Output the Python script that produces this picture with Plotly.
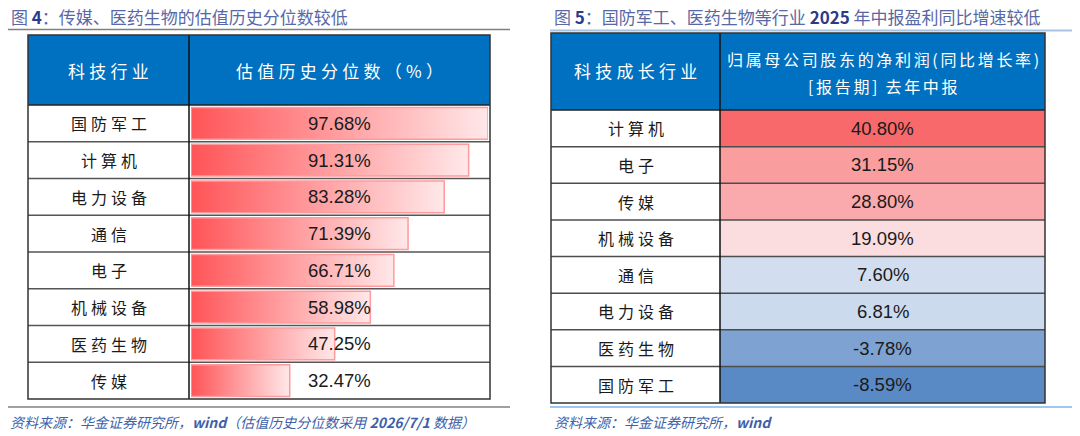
import plotly.graph_objects as go

# figure 4 data: valuation history percentile
left_cats = ["国防军工", "计算机", "电力设备", "通信", "电子", "机械设备", "医药生物", "传媒"]
left_vals = [97.68, 91.31, 83.28, 71.39, 66.71, 58.98, 47.25, 32.47]

# figure 5 data: net profit yoy growth, 2025 interim
right_cats = ["计算机", "电子", "传媒", "机械设备", "通信", "电力设备", "医药生物", "国防军工"]
right_vals = [40.80, 31.15, 28.80, 19.09, 7.60, 6.81, -3.78, -8.59]

W, H = 1080, 436
CJK = "Noto Sans CJK SC"
NUM = "Liberation Sans, Arial"


def px(x):
    return x / W


def py(y):
    return 1 - y / H


def spaced(s, sep="\u2005"):
    # Excel-style distributed characters
    return sep.join(s)


fig = go.Figure()

# left panel: gradient data bars
h = 0.435
for i, v in enumerate(left_vals):
    fig.add_trace(go.Scatter(
        x=[0, v, v, 0, 0],
        y=[i - h, i - h, i + h, i + h, i - h],
        mode="lines",
        fill="toself",
        fillgradient=dict(type="horizontal", colorscale=[[0, "#FF5457"], [1, "#FFE8E9"]]),
        line=dict(color="#FF9A9D", width=1.5),
        hoverinfo="skip",
        showlegend=False,
        xaxis="x", yaxis="y",
    ))

# right panel: 3-colour scale (min blue, median white, max red)
srt = sorted(right_vals)
median = (srt[3] + srt[4]) / 2
lo, hi = min(right_vals), max(right_vals)
mid = (median - lo) / (hi - lo)
fig.add_trace(go.Heatmap(
    z=[[v] for v in right_vals],
    x=[0],
    y=list(range(len(right_vals))),
    zmin=lo, zmax=hi,
    colorscale=[[0, "#5A8AC6"], [mid, "#FCFCFF"], [1, "#F8696B"]],
    showscale=False,
    hoverinfo="skip",
    xaxis="x2", yaxis="y2",
))

shapes = []
ann = []


def line(x0, x1, y0, y1, color, width, yref="paper"):
    ys = (y0, y1) if yref != "paper" else (py(y0), py(y1))
    return dict(type="line", xref="paper", yref=yref, x0=px(x0), x1=px(x1), y0=ys[0], y1=ys[1],
                line=dict(color=color, width=width))


def text(x, y, s, font, yref="paper", xanchor="center"):
    return dict(xref="paper", yref=yref, x=px(x), y=py(y) if yref == "paper" else y,
                xanchor=xanchor, yanchor="middle", showarrow=False, text=s, font=font)


# ---- left table frame ----
L0, L1, LD = 28, 490, 189
LT, LH, LB = 35, 105, 399
shapes.append(dict(type="rect", xref="paper", yref="paper", x0=px(L0), x1=px(L1), y0=py(LH), y1=py(LT),
                   fillcolor="#0070C0", line=dict(width=0), layer="below"))
for i in range(1, len(left_cats)):
    shapes.append(line(L0, L1, i - 0.5, i - 0.5, "#555555", 1.5, yref="y"))
shapes.append(line(L0, L1, LH, LH, "#222222", 1.5))
shapes.append(line(LD, LD, LB, LT, "#111111", 1.5))
shapes.append(dict(type="rect", xref="paper", yref="paper", x0=px(L0), x1=px(L1), y0=py(LB), y1=py(LT),
                   line=dict(color="#333333", width=1.5)))

# ---- right table frame ----
R0, R1, RD = 551, 1045, 720
RT, RH, RB = 33, 110, 403
shapes.append(dict(type="rect", xref="paper", yref="paper", x0=px(R0), x1=px(R1), y0=py(RH), y1=py(RT),
                   fillcolor="#0070C0", line=dict(width=0), layer="below"))
for i in range(1, len(right_cats)):
    shapes.append(line(R0, R1, i - 0.5, i - 0.5, "#4D4D4D", 1.5, yref="y2"))
shapes.append(line(R0, R1, RH, RH, "#222222", 1.5))
shapes.append(line(RD, RD, RB, RT, "#111111", 1.5))
shapes.append(dict(type="rect", xref="paper", yref="paper", x0=px(R0), x1=px(R1), y0=py(RB), y1=py(RT),
                   line=dict(color="#333333", width=1.5)))

# title / footer rules
shapes.append(line(8, 510, 29.5, 29.5, "#808080", 1.5))
shapes.append(line(8, 510, 407, 407, "#808080", 1.5))
shapes.append(line(550, 1072, 30.5, 30.5, "#A7C3E3", 2))
shapes.append(line(550, 1072, 407, 407, "#7DB6EC", 1.5))

TC = "#5868A6"
DK = "#2B3B8C"
tfont = dict(family=CJK, size=17, color=TC)
ann.append(text(9, 16, f"图 <b><span style='color:{DK}'>4</span></b>：传媒、医药生物的估值历史分位数较低",
                tfont, xanchor="left"))
ann.append(text(552, 16, f"图 <b><span style='color:{DK}'>5</span></b>：国防军工、医药生物等行业 "
                         f"<b><span style='color:{DK}'>2025</span></b> 年中报盈利同比增速较低",
                tfont, xanchor="left"))

ffont = dict(family=CJK, size=14, color="#3F5FAA")
ann.append(text(8, 422, "<i>资料来源：华金证券研究所，<b>wind</b>（估值历史分位数采用 <b>2026/7/1</b> 数据）</i>",
                ffont, xanchor="left"))
ann.append(text(552, 422, "<i>资料来源：华金证券研究所，<b>wind</b></i>", ffont, xanchor="left"))

# headers
hfont = dict(family=CJK, size=17, color="white")
ann.append(text((L0 + LD) / 2, 70, spaced("科技行业"), hfont))
ann.append(text((LD + L1) / 2, 70, spaced("估值历史分位数（%）"), hfont))
ann.append(text((R0 + RD) / 2, 71, spaced("科技成长行业"), hfont))
hfont2 = dict(family=CJK, size=16, color="white")
ann.append(text((RD + R1) / 2, 59, spaced("归属母公司股东的净利润(同比增长率)", "\u2006"), hfont2))
ann.append(text((RD + R1) / 2, 86, spaced("[报告期]", "\u2006") + "\u2005\u2005" + spaced("去年中报", "\u2006"),
                hfont2))

cfont = dict(family=CJK, size=16, color="#1A1A1A")
vfont = dict(family=NUM, size=18.5, color="#1A1A1A")
for i, (c, v) in enumerate(zip(left_cats, left_vals)):
    ann.append(text((L0 + LD) / 2, i, spaced(c), cfont, yref="y"))
    ann.append(text((LD + L1) / 2, i, f"{v:.2f}%", vfont, yref="y"))
for i, (c, v) in enumerate(zip(right_cats, right_vals)):
    ann.append(text((R0 + RD) / 2, i, spaced(c), cfont, yref="y2"))
    ann.append(text((RD + R1) / 2, i, f"{v:.2f}%", vfont, yref="y2"))

n = len(left_cats)
fig.update_layout(
    width=W, height=H,
    margin=dict(l=0, r=0, t=0, b=0),
    paper_bgcolor="white", plot_bgcolor="rgba(0,0,0,0)",
    showlegend=False,
    xaxis=dict(domain=[px(191), px(488)], range=[0, max(left_vals)], visible=False, fixedrange=True),
    yaxis=dict(domain=[py(LB), py(LH)], range=[n - 0.5, -0.5], visible=False, fixedrange=True),
    xaxis2=dict(domain=[px(RD), px(R1)], range=[-0.5, 0.5], visible=False, anchor="y2", fixedrange=True),
    yaxis2=dict(domain=[py(RB), py(RH)], range=[len(right_cats) - 0.5, -0.5], visible=False, anchor="x2",
                fixedrange=True),
    shapes=shapes,
    annotations=ann,
)

# drop the browser's default body margin so the figure sits at the page origin
fig.write_html("out.html", config={"displayModeBar": False},
               post_script="document.body.style.margin='0';")
